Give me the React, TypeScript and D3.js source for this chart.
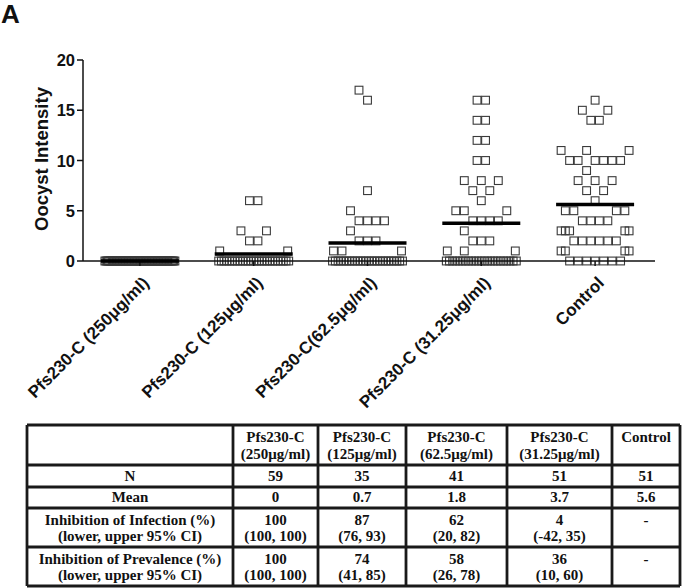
import React from "react";
import * as d3 from "d3";

const groups = [
  "Pfs230-C (250μg/ml)",
  "Pfs230-C (125μg/ml)",
  "Pfs230-C(62.5μg/ml)",
  "Pfs230-C (31.25μg/ml)",
  "Control",
];

const rep = (v: number, n: number) => Array.from({ length: n }, () => v);

const g250: number[] = rep(0, 59);
const g125: number[] = [...rep(0, 27), 1, 1, 2, 2, 3, 3, 6, 6];
const g62: number[] = [...rep(0, 26), 1, 1, 1, 2, 2, 2, 3, 4, 4, 4, 4, 5, 7, 16, 17];
const g31: number[] = [
  ...rep(0, 23), 1, 1, 1, 2, 2, 2, 3, 4, 4, 4, 4, 5, 5, 5, 6, 7, 7, 8, 8, 8,
  10, 10, 12, 12, 14, 14, 16, 16,
];
const gCtrl: number[] = [
  ...rep(0, 7), 1, 1, 1, 1, 2, 2, 2, 2, 2, 2, 3, 3, 3, 3, 3, 4, 4, 4, 4,
  5, 5, 5, 5, 6, 7, 7, 8, 8, 8, 9, 10, 10, 10, 10, 10, 10, 11, 11, 11,
  14, 14, 15, 15, 16,
];
const seriesValues = [g250, g125, g62, g31, gCtrl];

const yTicks = [0, 5, 10, 15, 20];

const tableHeaders: string[][] = [
  ["Pfs230-C", "(250μg/ml)"],
  ["Pfs230-C", "(125μg/ml)"],
  ["Pfs230-C", "(62.5μg/ml)"],
  ["Pfs230-C", "(31.25μg/ml)"],
  ["Control"],
];
const rowLabels: string[][] = [
  ["N"],
  ["Mean"],
  ["Inhibition of Infection (%)", "(lower, upper 95% CI)"],
  ["Inhibition of Prevalence (%)", "(lower, upper 95% CI)"],
];
const nValues = ["59", "35", "41", "51", "51"];
const meanValues = ["0", "0.7", "1.8", "3.7", "5.6"];
const infectionValues: string[][] = [
  ["100", "(100, 100)"],
  ["87", "(76, 93)"],
  ["62", "(20, 82)"],
  ["4", "(-42, 35)"],
  ["-"],
];
const prevalenceValues: string[][] = [
  ["100", "(100, 100)"],
  ["74", "(41, 85)"],
  ["58", "(26, 78)"],
  ["36", "(10, 60)"],
  ["-"],
];

const S = 8.5; // marker spacing
const HALF = 35; // max row half-width

type P = { v: number; dx: number; py: number };

function layout(values: number[], y: (v: number) => number): P[] {
  const rows = d3.groups(values, (v) => v).sort((a, b) => a[0] - b[0]);
  const placed: P[] = [];
  const cands: number[] = [];
  for (let k = 0; k * S / 2 <= HALF; k++) {
    if (k === 0) cands.push(0);
    else { cands.push(-k * S / 2); cands.push(k * S / 2); }
  }
  for (const [v, arr] of rows) {
    const n = arr.length;
    const py = y(v);
    const nb = placed.filter((p) => Math.abs(p.py - py) < 11 && Math.abs(p.py - py) > 0.1);
    const row: number[] = [];
    if ((n - 1) * S > HALF * 2) {
      const step = (HALF * 2) / (n - 1);
      for (let i = 0; i < n; i++) row.push(-HALF + i * step);
    } else {
      const centered = d3.range(n).map((i) => (i - (n - 1) / 2) * S);
      const ok = centered.every((o) => nb.every((p) => Math.abs(p.dx - o) >= S * 0.95));
      if (ok) row.push(...centered);
      else {
        for (let i = 0; i < n; i++) {
          let best = 0, bestScore = Infinity;
          for (const c of cands) {
            let sc = 0;
            const others = [...nb.map((p) => p.dx), ...row];
            for (const o of others) {
              const d = Math.abs(o - c);
              sc += Math.max(0, S * 0.95 - d) + (d < 0.5 ? 20 : 0);
            }
            if (sc < bestScore - 0.01) { bestScore = sc; best = c; }
            else if (Math.abs(sc - bestScore) <= 0.01 && sc > 0 && Math.abs(c) > Math.abs(best)) { best = c; }
          }
          row.push(best);
        }
      }
    }
    for (const dx of row) placed.push({ v, dx, py });
  }
  return placed;
}

export default function App() {
  const W = 685, H = 588;
  const x = d3.scaleBand<string>().domain(groups).range([83, 652]).padding(0);
  const y = d3.scaleLinear().domain([0, 20]).range([261, 60]);
  const sans = "Arial, 'Liberation Sans', Helvetica, sans-serif";
  const serif = "'Times New Roman', 'Liberation Serif', serif";

  const colX = [27, 233, 318, 406, 507, 612, 680];
  const rowY = [425, 465, 487, 508, 547, 586];

  const cellText = (lines: string[], cx: number, baselines: number[], key: string) => (
    <text key={key} x={cx} textAnchor="middle" fontFamily={serif} fontWeight="bold" fontSize={15} fill="#111">
      {lines.map((l, i) => (
        <tspan key={i} x={cx} y={baselines[i]}>{l}</tspan>
      ))}
    </text>
  );

  const bodyRows = [nValues.map((v) => [v]), meanValues.map((v) => [v]), infectionValues, prevalenceValues];
  const bodyBaselines = [[481], [502], [525, 541], [564, 580]];

  return (
    <svg width={W} height={H} style={{ position: "absolute", left: 0, top: 0, background: "#fff" }}>
      <rect width={W} height={H} fill="#fff" />
      <text x={1} y={23} fontFamily={sans} fontWeight="bold" fontSize={26} fill="#111">A</text>

      {/* y axis */}
      <line x1={83} x2={83} y1={y(20)} y2={y(0)} stroke="#111" strokeWidth={1.5} />
      {yTicks.map((t) => (
        <g key={t}>
          <line x1={77} x2={83} y1={y(t)} y2={y(t)} stroke="#111" strokeWidth={1.5} />
          <text x={75} y={y(t) + 6} textAnchor="end" fontFamily={sans} fontWeight="bold" fontSize={16.5} fill="#111">{t}</text>
        </g>
      ))}
      <text transform={`translate(48,159) rotate(-90)`} textAnchor="middle" fontFamily={sans} fontWeight="bold" fontSize={18.5} fill="#111">Oocyst Intensity</text>

      {/* markers */}
      {seriesValues.map((vals, gi) => {
        const cx = (x(groups[gi]) as number) + x.bandwidth() / 2;
        const pts = layout(vals, y);
        return (
          <g key={gi}>
            {pts.map((p, i) => (
              <rect key={i} x={cx + p.dx - 3.9} y={p.py - 3.9} width={7.8} height={7.8} fill="none" stroke="#3a3a3a" strokeWidth={1.1} />
            ))}
          </g>
        );
      })}

      {/* x axis */}
      <line x1={83} x2={655} y1={261} y2={261} stroke="#111" strokeWidth={1.5} />
      {groups.map((g) => {
        const cx = (x(g) as number) + x.bandwidth() / 2;
        return <line key={g} x1={cx} x2={cx} y1={261} y2={266} stroke="#111" strokeWidth={1.5} />;
      })}

      {/* mean lines */}
      {seriesValues.map((vals, gi) => {
        const cx = (x(groups[gi]) as number) + x.bandwidth() / 2;
        const m = d3.mean(vals) as number;
        return <line key={gi} x1={cx - 39} x2={cx + 39} y1={y(m)} y2={y(m)} stroke="#000" strokeWidth={3.5} />;
      })}

      {/* x labels */}
      {groups.map((g) => {
        const cx = (x(g) as number) + x.bandwidth() / 2;
        return (
          <text key={g} transform={`translate(${cx + 10},${284}) rotate(-45)`} textAnchor="end" fontFamily={sans} fontWeight="bold" fontSize={17} fill="#111">{g}</text>
        );
      })}

      {/* table */}
      <g>
        {rowY.map((ry, i) => (
          <line key={"h" + i} x1={colX[0]} x2={colX[colX.length - 1]} y1={ry} y2={ry} stroke="#1a1a1a" strokeWidth={2.8} />
        ))}
        {colX.map((cxv, i) => (
          <line key={"v" + i} x1={cxv} x2={cxv} y1={rowY[0]} y2={rowY[rowY.length - 1]} stroke="#1a1a1a" strokeWidth={2.8} />
        ))}
        {tableHeaders.map((h, i) => cellText(h, (colX[i + 1] + colX[i + 2]) / 2, [442, 459], "th" + i))}
        {rowLabels.map((r, i) => cellText(r, (colX[0] + colX[1]) / 2, bodyBaselines[i], "rl" + i))}
        {bodyRows.map((row, ri) =>
          row.map((cell, ci) => cellText(cell, (colX[ci + 1] + colX[ci + 2]) / 2, bodyBaselines[ri], `c${ri}-${ci}`))
        )}
      </g>
    </svg>
  );
}
